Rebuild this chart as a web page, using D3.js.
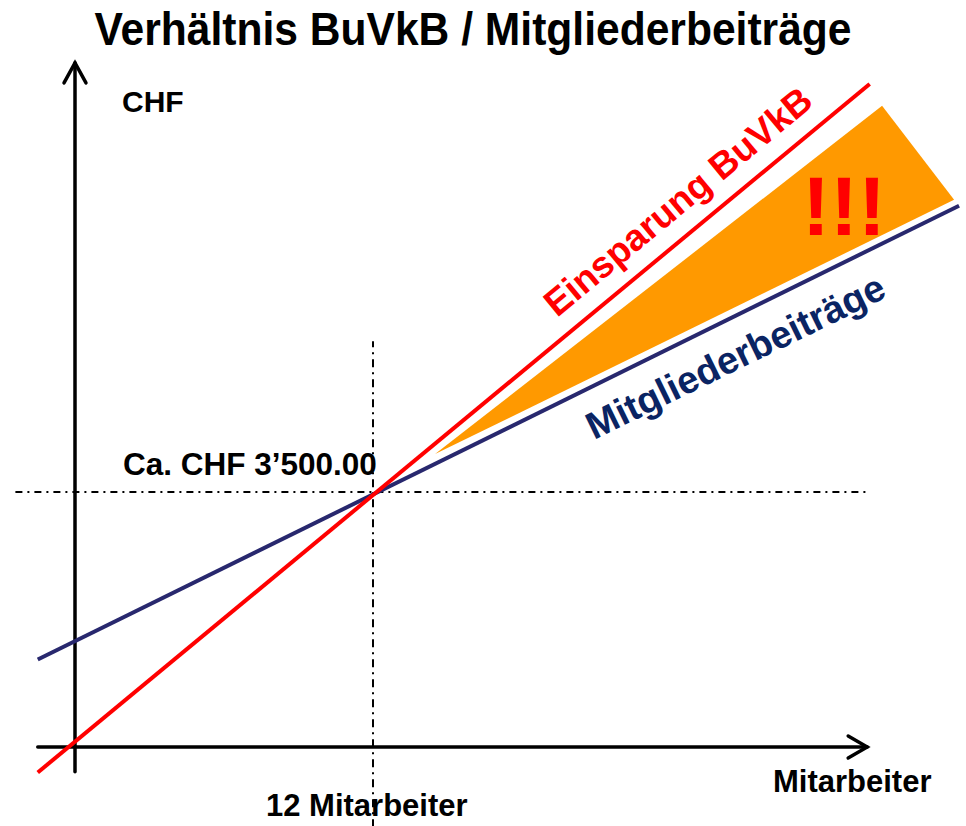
<!DOCTYPE html>
<meta charset="utf-8">
<style>
  body { margin: 0; background: #fff; }
  svg { display: block; font-family: "Liberation Sans", Arial, sans-serif; font-weight: bold; }
</style>
<body>
<svg width="966" height="826"></svg>
<script src="https://cdn.jsdelivr.net/npm/d3@7"></script>
<script>
  // break-even point: 12 Mitarbeiter / CHF 3'500
  var breakEvenStaff = 12;
  var breakEvenChf = 3500;

  // lines in (Mitarbeiter, CHF)
  var costLine = [[-1.5, -350], [32, 9100]];      // Einsparung BuVkB
  var feeLine = [[-1.5, 1200], [35.6, 7430]];     // Mitgliederbeiträge
  var savingArea = [[14.5, 4020], [32.5, 8800], [35.4, 7510]];

  // axis extents
  var xAxisExtent = [-1.5, 31.9];
  var yAxisExtent = [-340, 9390];
  var vGuideExtent = [-1100, 5570];
  var hGuideExtent = [-2.4, 32];

  var svg = d3.select("svg");

  var x = d3.scaleLinear().domain([0, breakEvenStaff]).range([75, 373]);
  var y = d3.scaleLinear().domain([0, breakEvenChf]).range([747, 492]);

  var line = d3.line()
    .x(function(d) { return x(d[0]); })
    .y(function(d) { return y(d[1]); });

  // title
  svg.append("text")
    .attr("x", 473).attr("y", 45)
    .attr("text-anchor", "middle")
    .attr("textLength", 757)
    .attr("lengthAdjust", "spacingAndGlyphs")
    .style("font-size", "46px")
    .text("Verhältnis BuVkB / Mitgliederbeiträge");

  // orange area
  svg.append("path")
    .attr("d", line(savingArea) + "Z")
    .attr("fill", "#ff9900");

  // dash-dot guides
  svg.append("path")
    .attr("d", line([[breakEvenStaff, vGuideExtent[0]], [breakEvenStaff, vGuideExtent[1]]]))
    .attr("stroke", "#000").attr("stroke-width", 2)
    .attr("stroke-dasharray", "8,5,2,5");

  svg.append("path")
    .attr("d", line([[hGuideExtent[0], breakEvenChf], [hGuideExtent[1], breakEvenChf]]))
    .attr("stroke", "#000").attr("stroke-width", 2)
    .attr("stroke-dasharray", "7,5,2,5");

  // axes
  var axisG = svg.append("g")
    .attr("stroke", "#000").attr("stroke-width", 3.5)
    .attr("fill", "none").attr("stroke-linecap", "round");

  axisG.append("path")
    .attr("d", line([[xAxisExtent[0], 0], [xAxisExtent[1], 0]]));
  axisG.append("path")
    .attr("d", line([[0, yAxisExtent[0]], [0, yAxisExtent[1]]]));

  var xt = x(xAxisExtent[1]), y0 = y(0);
  axisG.append("path")
    .attr("d", "M" + (xt - 19) + "," + (y0 - 11) + "L" + xt + "," + y0 + "L" + (xt - 19) + "," + (y0 + 11))
    .attr("stroke-linejoin", "miter");
  var yt = y(yAxisExtent[1]), x0 = x(0);
  axisG.append("path")
    .attr("d", "M" + (x0 - 11) + "," + (yt + 20) + "L" + x0 + "," + yt + "L" + (x0 + 11) + "," + (yt + 20))
    .attr("stroke-linejoin", "miter");

  // lines
  svg.append("path")
    .attr("d", line(feeLine))
    .attr("stroke", "#28286e").attr("stroke-width", 4).attr("fill", "none");
  svg.append("path")
    .attr("d", line(costLine))
    .attr("stroke", "#ff0000").attr("stroke-width", 4).attr("fill", "none");

  // labels
  svg.append("text").attr("x", 122).attr("y", 112)
    .style("font-size", "30px").text("CHF");
  svg.append("text").attr("x", 123).attr("y", 475)
    .style("font-size", "31.5px").text("Ca. CHF 3’500.00");
  svg.append("text").attr("x", 266).attr("y", 816)
    .style("font-size", "31px").text("12 Mitarbeiter");
  svg.append("text").attr("x", 773).attr("y", 792)
    .style("font-size", "31px").text("Mitarbeiter");

  svg.append("text")
    .attr("transform", "translate(557,318) rotate(-39.6)")
    .attr("fill", "#ff0000")
    .style("font-size", "37px")
    .text("Einsparung BuVkB");

  svg.append("text")
    .attr("transform", "translate(594,440) rotate(-26)")
    .attr("fill", "#0a2463")
    .style("font-size", "38px")
    .text("Mitgliederbeiträge");

  svg.append("text").attr("x", 802).attr("y", 235)
    .attr("fill", "#ff0000")
    .style("font-size", "84px")
    .text("!!!");
</script>
</body>
